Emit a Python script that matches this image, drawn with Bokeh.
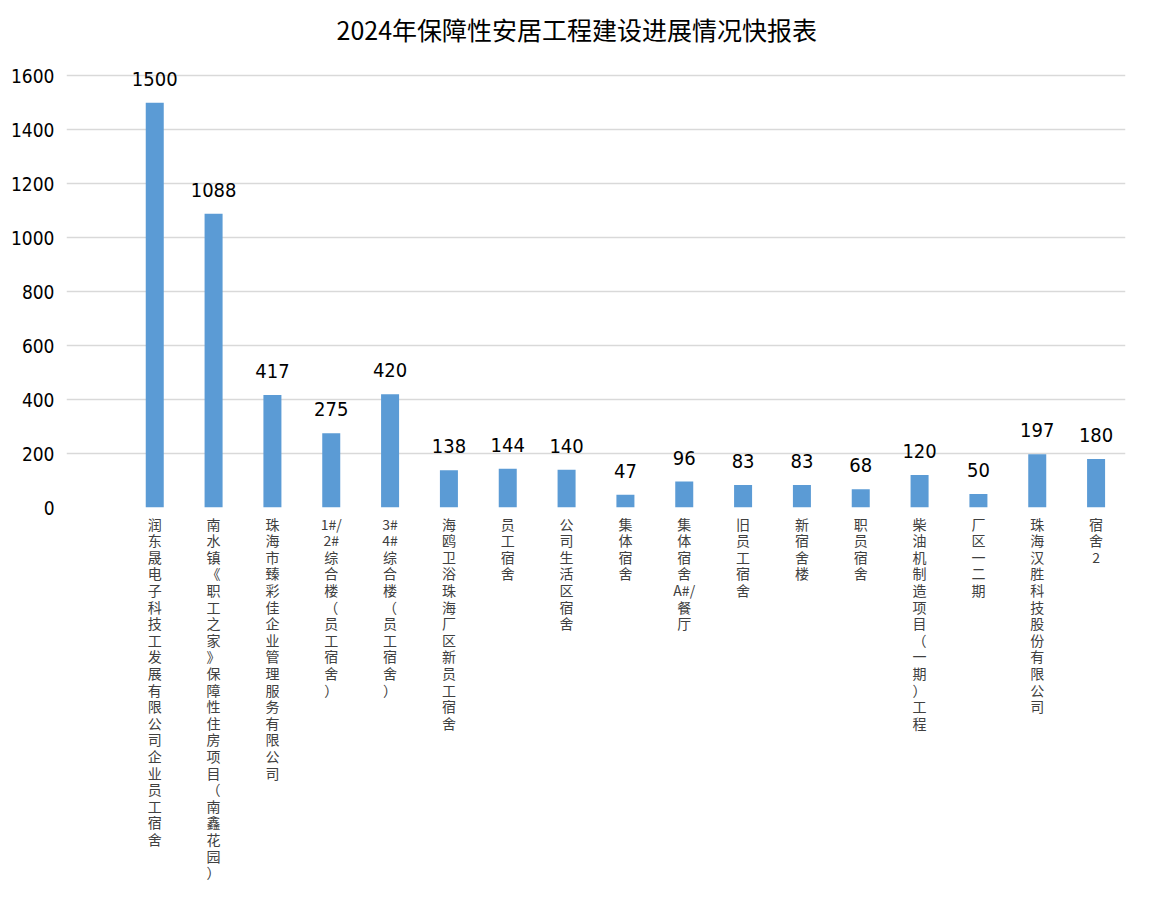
import re
from bokeh.plotting import figure
from bokeh.models import Range1d, FixedTicker, ColumnDataSource
from bokeh.core.properties import value
from bokeh.embed import file_html
from bokeh.resources import INLINE

title_text = "2024年保障性安居工程建设进展情况快报表"

categories = [
    "润东晟电子科技工发展有限公司企业员工宿舍",
    "南水镇《职工之家》保障性住房项目（南鑫花园）",
    "珠海市臻彩佳企业管理服务有限公司",
    "1#/2#综合楼（员工宿舍）",
    "3#4#综合楼（员工宿舍）",
    "海鸥卫浴珠海厂区新员工宿舍",
    "员工宿舍",
    "公司生活区宿舍",
    "集体宿舍",
    "集体宿舍A#/餐厅",
    "旧员工宿舍",
    "新宿舍楼",
    "职员宿舍",
    "柴油机制造项目（一期）工程",
    "厂区一二期",
    "珠海汉胜科技股份有限公司",
    "宿舍2",
]
values = [1500, 1088, 417, 275, 420, 138, 144, 140, 47, 96, 83, 83, 68, 120, 50, 197, 180]
y_ticks = [0, 200, 400, 600, 800, 1000, 1200, 1400, 1600]

NARROW = "DejaVu Sans Condensed"
CJK = "Noto Sans CJK SC"


def vertical(s):
    return "\n".join(re.findall(r"[0-9A-Za-z]#?/?|.", s))


xs = list(range(len(categories)))
src = ColumnDataSource(dict(x=xs, v=values, vt=[str(v) for v in values]))

p = figure(
    width=1134, height=885,
    x_range=Range1d(-1.5, 16.5), y_range=Range1d(0, 1660),
    output_backend="svg", toolbar_location=None,
    min_border_left=66, min_border_right=9, min_border_top=59, min_border_bottom=378,
    background_fill_color="white", border_fill_color="white",
)
p.outline_line_color = None

p.title.text = title_text
p.title.align = "left"
p.title.offset = 270
p.title.vertical_align = "top"
p.title.standoff = 21
p.title.text_font = CJK
p.title.text_font_size = "25px"
p.title.text_font_style = "normal"
p.title.text_color = "#000000"

p.vbar(x="x", top="v", width=0.306, source=src, fill_color="#5B9BD5", line_color=None)
p.text(x="x", y="v", text="vt", source=src, text_align="center", text_baseline="bottom",
       y_offset=-17, text_font=value(NARROW), text_font_size="20px", text_color="#000000")

p.xgrid.visible = False
p.ygrid.grid_line_color = "#d9d9d9"
p.ygrid.grid_line_width = 1.5

p.yaxis.ticker = FixedTicker(ticks=y_ticks)
p.yaxis.axis_line_color = None
p.yaxis.major_tick_line_color = None
p.yaxis.minor_tick_line_color = None
p.yaxis.major_label_text_font = NARROW
p.yaxis.major_label_text_font_size = "19px"
p.yaxis.major_label_text_color = "#000000"
p.yaxis.major_label_standoff = 6

p.xaxis.ticker = FixedTicker(ticks=xs)
p.xaxis.major_label_overrides = {i: vertical(c) for i, c in enumerate(categories)}
p.xaxis.axis_line_color = None
p.xaxis.major_tick_line_color = None
p.xaxis.minor_tick_line_color = None
p.xaxis.major_label_text_font = CJK
p.xaxis.major_label_text_font_size = "14px"
p.xaxis.major_label_text_line_height = 0.83
p.xaxis.major_label_text_color = "#404040"
p.xaxis.major_label_standoff = 0

open("out.html", "w").write(file_html(p, INLINE))
